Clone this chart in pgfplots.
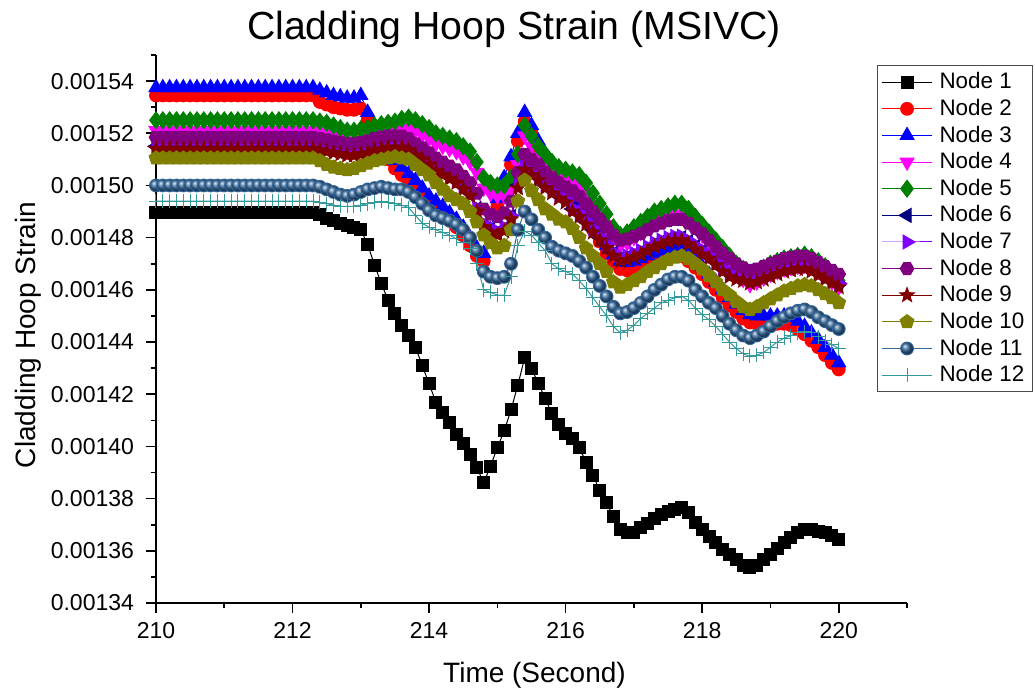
\documentclass[border=0pt]{standalone}
\usepackage{pgfplots}
\pgfplotsset{compat=1.18}
\usepackage{pgfplotstable}
\usepackage{fontspec}
\setmainfont{Liberation Sans}
\usetikzlibrary{shadings}

\definecolor{c1}{RGB}{0,0,0}
\definecolor{c2}{RGB}{255,0,0}
\definecolor{c3}{RGB}{0,0,255}
\definecolor{c4}{RGB}{255,0,255}
\definecolor{c5}{RGB}{0,128,0}
\definecolor{c6}{RGB}{0,0,128}
\definecolor{c7}{RGB}{128,0,255}
\definecolor{c8}{RGB}{128,0,128}
\definecolor{c9}{RGB}{128,0,0}
\definecolor{c10}{RGB}{128,128,0}
\definecolor{c11}{RGB}{51,102,153}
\definecolor{c12}{RGB}{51,153,153}

\pgfdeclareplotmark{hexagon*}{%
  \pgfpathmoveto{\pgfpointpolar{0}{\pgfplotmarksize}}%
  \pgfpathlineto{\pgfpointpolar{60}{\pgfplotmarksize}}%
  \pgfpathlineto{\pgfpointpolar{120}{\pgfplotmarksize}}%
  \pgfpathlineto{\pgfpointpolar{180}{\pgfplotmarksize}}%
  \pgfpathlineto{\pgfpointpolar{240}{\pgfplotmarksize}}%
  \pgfpathlineto{\pgfpointpolar{300}{\pgfplotmarksize}}%
  \pgfpathclose\pgfusepathqfillstroke}
\pgfdeclareplotmark{fstar}{%
  \pgfpathmoveto{\pgfpointpolar{90}{\pgfplotmarksize}}%
  \pgfpathlineto{\pgfpointpolar{126}{0.42\pgfplotmarksize}}%
  \pgfpathlineto{\pgfpointpolar{162}{\pgfplotmarksize}}%
  \pgfpathlineto{\pgfpointpolar{198}{0.42\pgfplotmarksize}}%
  \pgfpathlineto{\pgfpointpolar{234}{\pgfplotmarksize}}%
  \pgfpathlineto{\pgfpointpolar{270}{0.42\pgfplotmarksize}}%
  \pgfpathlineto{\pgfpointpolar{306}{\pgfplotmarksize}}%
  \pgfpathlineto{\pgfpointpolar{342}{0.42\pgfplotmarksize}}%
  \pgfpathlineto{\pgfpointpolar{18}{\pgfplotmarksize}}%
  \pgfpathlineto{\pgfpointpolar{54}{0.42\pgfplotmarksize}}%
  \pgfpathclose\pgfusepathqfillstroke}

\pgfplotstableread{
t n1 n2 n3 n4 n5 n6 n7 n8 n9 n10 n11 n12
210.0 148.95e-5 153.45e-5 153.75e-5 152.1e-5 152.5e-5 151.5e-5 151.55e-5 151.85e-5 151.4e-5 151.05e-5 150.0e-5 149.4e-5
210.1 148.95e-5 153.45e-5 153.75e-5 152.1e-5 152.5e-5 151.5e-5 151.55e-5 151.85e-5 151.4e-5 151.05e-5 150.0e-5 149.4e-5
210.2 148.95e-5 153.45e-5 153.75e-5 152.1e-5 152.5e-5 151.5e-5 151.55e-5 151.85e-5 151.4e-5 151.05e-5 150.0e-5 149.4e-5
210.3 148.95e-5 153.45e-5 153.75e-5 152.1e-5 152.5e-5 151.5e-5 151.55e-5 151.85e-5 151.4e-5 151.05e-5 150.0e-5 149.4e-5
210.4 148.95e-5 153.45e-5 153.75e-5 152.1e-5 152.5e-5 151.5e-5 151.55e-5 151.85e-5 151.4e-5 151.05e-5 150.0e-5 149.4e-5
210.5 148.95e-5 153.45e-5 153.75e-5 152.1e-5 152.5e-5 151.5e-5 151.55e-5 151.85e-5 151.4e-5 151.05e-5 150.0e-5 149.4e-5
210.6 148.95e-5 153.45e-5 153.75e-5 152.1e-5 152.5e-5 151.5e-5 151.55e-5 151.85e-5 151.4e-5 151.05e-5 150.0e-5 149.4e-5
210.7 148.95e-5 153.45e-5 153.75e-5 152.1e-5 152.5e-5 151.5e-5 151.55e-5 151.85e-5 151.4e-5 151.05e-5 150.0e-5 149.4e-5
210.8 148.95e-5 153.45e-5 153.75e-5 152.1e-5 152.5e-5 151.5e-5 151.55e-5 151.85e-5 151.4e-5 151.05e-5 150.0e-5 149.4e-5
210.9 148.95e-5 153.45e-5 153.75e-5 152.1e-5 152.5e-5 151.5e-5 151.55e-5 151.85e-5 151.4e-5 151.05e-5 150.0e-5 149.4e-5
211.0 148.95e-5 153.45e-5 153.75e-5 152.1e-5 152.5e-5 151.5e-5 151.55e-5 151.85e-5 151.4e-5 151.05e-5 150.0e-5 149.4e-5
211.1 148.95e-5 153.45e-5 153.75e-5 152.1e-5 152.5e-5 151.5e-5 151.55e-5 151.85e-5 151.4e-5 151.05e-5 150.0e-5 149.4e-5
211.2 148.95e-5 153.45e-5 153.75e-5 152.1e-5 152.5e-5 151.5e-5 151.55e-5 151.85e-5 151.4e-5 151.05e-5 150.0e-5 149.4e-5
211.3 148.95e-5 153.45e-5 153.75e-5 152.1e-5 152.5e-5 151.5e-5 151.55e-5 151.85e-5 151.4e-5 151.05e-5 150.0e-5 149.4e-5
211.4 148.95e-5 153.45e-5 153.75e-5 152.1e-5 152.5e-5 151.5e-5 151.55e-5 151.85e-5 151.4e-5 151.05e-5 150.0e-5 149.4e-5
211.5 148.95e-5 153.45e-5 153.75e-5 152.1e-5 152.5e-5 151.5e-5 151.55e-5 151.85e-5 151.4e-5 151.05e-5 150.0e-5 149.4e-5
211.6 148.95e-5 153.45e-5 153.75e-5 152.1e-5 152.5e-5 151.5e-5 151.55e-5 151.85e-5 151.4e-5 151.05e-5 150.0e-5 149.4e-5
211.7 148.95e-5 153.45e-5 153.75e-5 152.1e-5 152.5e-5 151.5e-5 151.55e-5 151.85e-5 151.4e-5 151.05e-5 150.0e-5 149.4e-5
211.8 148.95e-5 153.45e-5 153.75e-5 152.1e-5 152.5e-5 151.5e-5 151.55e-5 151.85e-5 151.4e-5 151.05e-5 150.0e-5 149.4e-5
211.9 148.95e-5 153.45e-5 153.75e-5 152.1e-5 152.5e-5 151.5e-5 151.55e-5 151.85e-5 151.4e-5 151.05e-5 150.0e-5 149.4e-5
212.0 148.95e-5 153.45e-5 153.75e-5 152.1e-5 152.5e-5 151.5e-5 151.55e-5 151.85e-5 151.4e-5 151.05e-5 150.0e-5 149.4e-5
212.1 148.95e-5 153.45e-5 153.75e-5 152.1e-5 152.5e-5 151.5e-5 151.55e-5 151.85e-5 151.4e-5 151.05e-5 150.0e-5 149.4e-5
212.2 148.95e-5 153.45e-5 153.75e-5 152.1e-5 152.5e-5 151.5e-5 151.55e-5 151.85e-5 151.4e-5 151.05e-5 150.0e-5 149.4e-5
212.3 148.95e-5 153.45e-5 153.75e-5 152.1e-5 152.5e-5 151.5e-5 151.55e-5 151.85e-5 151.4e-5 151.05e-5 150.0e-5 149.4e-5
212.4 148.9e-5 153.2e-5 153.65e-5 152.05e-5 152.45e-5 151.45e-5 151.5e-5 151.8e-5 151.35e-5 150.95e-5 149.95e-5 149.35e-5
212.5 148.75e-5 153.1e-5 153.55e-5 152.0e-5 152.4e-5 151.4e-5 151.45e-5 151.75e-5 151.3e-5 150.8e-5 149.85e-5 149.3e-5
212.6 148.65e-5 153.0e-5 153.45e-5 151.9e-5 152.3e-5 151.35e-5 151.4e-5 151.7e-5 151.25e-5 150.7e-5 149.75e-5 149.25e-5
212.7 148.55e-5 152.95e-5 153.4e-5 151.8e-5 152.2e-5 151.3e-5 151.35e-5 151.65e-5 151.2e-5 150.65e-5 149.65e-5 149.2e-5
212.8 148.45e-5 152.9e-5 153.35e-5 151.7e-5 152.1e-5 151.25e-5 151.3e-5 151.6e-5 151.15e-5 150.6e-5 149.6e-5 149.2e-5
212.9 148.4e-5 152.9e-5 153.35e-5 151.7e-5 152.1e-5 151.25e-5 151.3e-5 151.6e-5 151.15e-5 150.65e-5 149.65e-5 149.2e-5
213.0 148.3e-5 152.95e-5 153.45e-5 151.75e-5 152.15e-5 151.3e-5 151.35e-5 151.65e-5 151.2e-5 150.75e-5 149.75e-5 149.25e-5
213.1 147.75e-5 152.5e-5 152.8e-5 151.8e-5 152.2e-5 151.35e-5 151.4e-5 151.7e-5 151.25e-5 150.85e-5 149.85e-5 149.3e-5
213.2 146.95e-5 152.0e-5 152.3e-5 151.9e-5 152.3e-5 151.45e-5 151.5e-5 151.8e-5 151.35e-5 150.95e-5 149.9e-5 149.35e-5
213.3 146.25e-5 151.5e-5 151.8e-5 151.95e-5 152.35e-5 151.5e-5 151.55e-5 151.85e-5 151.4e-5 151.0e-5 149.95e-5 149.4e-5
213.4 145.6e-5 151.0e-5 151.3e-5 152.0e-5 152.4e-5 151.55e-5 151.6e-5 151.9e-5 151.45e-5 151.05e-5 149.9e-5 149.35e-5
213.5 145.1e-5 150.65e-5 150.95e-5 152.05e-5 152.45e-5 151.55e-5 151.6e-5 151.9e-5 151.45e-5 151.1e-5 149.85e-5 149.3e-5
213.6 144.65e-5 150.4e-5 150.7e-5 152.15e-5 152.55e-5 151.55e-5 151.6e-5 151.9e-5 151.45e-5 151.05e-5 149.85e-5 149.25e-5
213.7 144.25e-5 150.15e-5 150.45e-5 152.2e-5 152.6e-5 151.45e-5 151.5e-5 151.8e-5 151.35e-5 151.0e-5 149.75e-5 149.15e-5
213.8 143.8e-5 149.9e-5 150.2e-5 152.1e-5 152.5e-5 151.25e-5 151.3e-5 151.6e-5 151.15e-5 150.8e-5 149.55e-5 148.85e-5
213.9 143.1e-5 149.6e-5 149.9e-5 151.95e-5 152.35e-5 151.1e-5 151.15e-5 151.45e-5 151.0e-5 150.6e-5 149.3e-5 148.55e-5
214.0 142.4e-5 149.3e-5 149.6e-5 151.8e-5 152.2e-5 150.9e-5 150.95e-5 151.25e-5 150.8e-5 150.4e-5 149.05e-5 148.4e-5
214.1 141.7e-5 149.1e-5 149.4e-5 151.6e-5 152.0e-5 150.65e-5 150.7e-5 151.05e-5 150.55e-5 150.1e-5 148.85e-5 148.3e-5
214.2 141.3e-5 148.9e-5 149.2e-5 151.5e-5 151.9e-5 150.5e-5 150.55e-5 150.9e-5 150.4e-5 149.85e-5 148.75e-5 148.2e-5
214.3 140.9e-5 148.65e-5 148.95e-5 151.4e-5 151.8e-5 150.35e-5 150.4e-5 150.75e-5 150.25e-5 149.6e-5 148.65e-5 148.1e-5
214.4 140.45e-5 148.4e-5 148.7e-5 151.3e-5 151.7e-5 150.2e-5 150.25e-5 150.6e-5 150.1e-5 149.45e-5 148.5e-5 147.95e-5
214.5 140.1e-5 148.1e-5 148.4e-5 151.1e-5 151.5e-5 149.95e-5 150.0e-5 150.35e-5 149.85e-5 149.3e-5 148.3e-5 147.8e-5
214.6 139.7e-5 147.7e-5 148.0e-5 150.9e-5 151.3e-5 149.7e-5 149.75e-5 150.1e-5 149.6e-5 149.0e-5 148.0e-5 147.6e-5
214.7 139.2e-5 147.3e-5 147.6e-5 150.5e-5 150.9e-5 149.1e-5 149.15e-5 149.7e-5 149.0e-5 148.6e-5 147.5e-5 147.0e-5
214.8 138.6e-5 147.1e-5 147.4e-5 149.9e-5 150.3e-5 148.5e-5 148.55e-5 149.1e-5 148.4e-5 148.1e-5 146.7e-5 146.0e-5
214.9 139.25e-5 148.0e-5 148.3e-5 149.7e-5 150.1e-5 148.3e-5 148.35e-5 148.9e-5 148.2e-5 147.8e-5 146.5e-5 145.9e-5
215.0 139.95e-5 149.2e-5 149.5e-5 149.6e-5 150.0e-5 148.2e-5 148.25e-5 148.8e-5 148.1e-5 147.6e-5 146.45e-5 145.8e-5
215.1 140.6e-5 150.0e-5 150.3e-5 149.6e-5 150.0e-5 148.35e-5 148.4e-5 148.95e-5 148.25e-5 147.7e-5 146.5e-5 145.8e-5
215.2 141.4e-5 150.8e-5 151.1e-5 149.9e-5 150.3e-5 148.8e-5 148.85e-5 149.4e-5 148.7e-5 148.3e-5 147.0e-5 146.5e-5
215.3 142.35e-5 151.7e-5 152.0e-5 150.8e-5 151.2e-5 150.0e-5 150.05e-5 150.5e-5 149.9e-5 149.4e-5 148.3e-5 147.7e-5
215.4 143.4e-5 152.45e-5 152.8e-5 151.9e-5 152.3e-5 150.7e-5 150.75e-5 151.2e-5 150.6e-5 150.2e-5 149.0e-5 148.25e-5
215.5 143.0e-5 152.0e-5 152.3e-5 151.5e-5 151.9e-5 150.5e-5 150.55e-5 151.0e-5 150.4e-5 149.8e-5 148.7e-5 148.1e-5
215.6 142.4e-5 151.4e-5 151.7e-5 151.1e-5 151.5e-5 150.3e-5 150.35e-5 150.8e-5 150.2e-5 149.45e-5 148.3e-5 147.8e-5
215.7 141.85e-5 150.8e-5 151.1e-5 150.8e-5 151.2e-5 150.0e-5 150.05e-5 150.5e-5 149.9e-5 149.1e-5 148.0e-5 147.5e-5
215.8 141.25e-5 150.3e-5 150.6e-5 150.5e-5 150.9e-5 149.8e-5 149.85e-5 150.3e-5 149.7e-5 148.9e-5 147.65e-5 147.0e-5
215.9 140.85e-5 150.0e-5 150.3e-5 150.3e-5 150.7e-5 149.6e-5 149.65e-5 150.1e-5 149.5e-5 148.7e-5 147.5e-5 146.8e-5
216.0 140.5e-5 149.7e-5 150.0e-5 150.2e-5 150.6e-5 149.45e-5 149.5e-5 149.95e-5 149.35e-5 148.6e-5 147.4e-5 146.7e-5
216.1 140.3e-5 149.4e-5 149.7e-5 150.1e-5 150.5e-5 149.1e-5 149.15e-5 149.8e-5 149.0e-5 148.35e-5 147.3e-5 146.6e-5
216.2 139.95e-5 149.1e-5 149.4e-5 150.0e-5 150.4e-5 148.9e-5 148.95e-5 149.6e-5 148.8e-5 148.0e-5 147.1e-5 146.35e-5
216.3 139.4e-5 148.7e-5 149.0e-5 149.7e-5 150.1e-5 148.6e-5 148.65e-5 149.3e-5 148.5e-5 147.6e-5 146.85e-5 146.05e-5
216.4 138.9e-5 148.3e-5 148.6e-5 149.3e-5 149.7e-5 148.3e-5 148.35e-5 149.0e-5 148.2e-5 147.3e-5 146.5e-5 145.7e-5
216.5 138.3e-5 147.85e-5 148.15e-5 148.9e-5 149.3e-5 148.0e-5 148.05e-5 148.7e-5 147.9e-5 147.0e-5 146.15e-5 145.35e-5
216.6 137.85e-5 147.4e-5 147.7e-5 148.5e-5 148.9e-5 147.7e-5 147.75e-5 148.4e-5 147.6e-5 146.7e-5 145.75e-5 145.0e-5
216.7 137.3e-5 147.05e-5 147.35e-5 148.0e-5 148.4e-5 147.4e-5 147.45e-5 148.1e-5 147.3e-5 146.3e-5 145.35e-5 144.6e-5
216.8 136.8e-5 146.8e-5 147.1e-5 147.7e-5 148.1e-5 147.2e-5 147.25e-5 147.9e-5 147.1e-5 146.1e-5 145.1e-5 144.35e-5
216.9 136.7e-5 146.75e-5 147.05e-5 147.8e-5 148.2e-5 147.25e-5 147.3e-5 147.95e-5 147.15e-5 146.2e-5 145.15e-5 144.45e-5
217.0 136.7e-5 146.8e-5 147.1e-5 148.0e-5 148.4e-5 147.35e-5 147.4e-5 148.05e-5 147.25e-5 146.35e-5 145.3e-5 144.65e-5
217.1 136.9e-5 146.9e-5 147.2e-5 148.2e-5 148.6e-5 147.45e-5 147.5e-5 148.15e-5 147.35e-5 146.5e-5 145.5e-5 144.9e-5
217.2 137.05e-5 147.0e-5 147.3e-5 148.4e-5 148.8e-5 147.6e-5 147.65e-5 148.3e-5 147.5e-5 146.7e-5 145.75e-5 145.1e-5
217.3 137.25e-5 147.1e-5 147.4e-5 148.6e-5 149.0e-5 147.75e-5 147.8e-5 148.45e-5 147.65e-5 146.85e-5 146.0e-5 145.3e-5
217.4 137.4e-5 147.2e-5 147.5e-5 148.7e-5 149.1e-5 147.85e-5 147.9e-5 148.55e-5 147.75e-5 147.0e-5 146.2e-5 145.5e-5
217.5 137.5e-5 147.25e-5 147.55e-5 148.8e-5 149.2e-5 147.95e-5 148.0e-5 148.65e-5 147.85e-5 147.15e-5 146.4e-5 145.6e-5
217.6 137.6e-5 147.3e-5 147.6e-5 148.9e-5 149.3e-5 148.0e-5 148.05e-5 148.7e-5 147.9e-5 147.25e-5 146.5e-5 145.7e-5
217.7 137.65e-5 147.3e-5 147.6e-5 148.9e-5 149.3e-5 148.0e-5 148.05e-5 148.7e-5 147.9e-5 147.3e-5 146.5e-5 145.75e-5
217.8 137.45e-5 147.1e-5 147.4e-5 148.7e-5 149.1e-5 147.85e-5 147.9e-5 148.55e-5 147.75e-5 147.2e-5 146.35e-5 145.6e-5
217.9 137.1e-5 146.85e-5 147.15e-5 148.4e-5 148.8e-5 147.65e-5 147.7e-5 148.35e-5 147.55e-5 147.0e-5 146.0e-5 145.3e-5
218.0 136.8e-5 146.6e-5 146.9e-5 148.1e-5 148.5e-5 147.45e-5 147.5e-5 148.15e-5 147.35e-5 146.8e-5 145.75e-5 145.05e-5
218.1 136.55e-5 146.3e-5 146.6e-5 147.8e-5 148.2e-5 147.3e-5 147.35e-5 147.9e-5 147.2e-5 146.55e-5 145.5e-5 144.85e-5
218.2 136.3e-5 146.0e-5 146.3e-5 147.5e-5 147.9e-5 147.05e-5 147.1e-5 147.65e-5 146.95e-5 146.3e-5 145.3e-5 144.6e-5
218.3 136.05e-5 145.7e-5 146.0e-5 147.2e-5 147.6e-5 146.8e-5 146.85e-5 147.4e-5 146.7e-5 146.0e-5 145.0e-5 144.3e-5
218.4 135.85e-5 145.4e-5 145.7e-5 146.9e-5 147.3e-5 146.6e-5 146.65e-5 147.2e-5 146.5e-5 145.8e-5 144.7e-5 144.0e-5
218.5 135.65e-5 145.15e-5 145.45e-5 146.6e-5 147.0e-5 146.5e-5 146.55e-5 147.0e-5 146.4e-5 145.55e-5 144.45e-5 143.75e-5
218.6 135.45e-5 144.9e-5 145.2e-5 146.4e-5 146.8e-5 146.45e-5 146.5e-5 146.85e-5 146.35e-5 145.35e-5 144.25e-5 143.55e-5
218.7 135.35e-5 144.75e-5 145.05e-5 146.2e-5 146.6e-5 146.35e-5 146.4e-5 146.75e-5 146.25e-5 145.25e-5 144.15e-5 143.45e-5
218.8 135.45e-5 144.7e-5 145.0e-5 146.3e-5 146.7e-5 146.4e-5 146.45e-5 146.8e-5 146.3e-5 145.35e-5 144.25e-5 143.5e-5
218.9 135.65e-5 144.7e-5 145.0e-5 146.45e-5 146.85e-5 146.5e-5 146.55e-5 146.9e-5 146.4e-5 145.5e-5 144.4e-5 143.6e-5
219.0 135.85e-5 144.7e-5 145.0e-5 146.6e-5 147.0e-5 146.6e-5 146.65e-5 147.0e-5 146.5e-5 145.65e-5 144.6e-5 143.8e-5
219.1 136.1e-5 144.7e-5 145.0e-5 146.7e-5 147.1e-5 146.7e-5 146.75e-5 147.1e-5 146.6e-5 145.8e-5 144.8e-5 144.0e-5
219.2 136.3e-5 144.7e-5 145.0e-5 146.8e-5 147.2e-5 146.8e-5 146.85e-5 147.2e-5 146.7e-5 145.95e-5 144.95e-5 144.15e-5
219.3 136.5e-5 144.65e-5 144.95e-5 146.85e-5 147.25e-5 146.85e-5 146.9e-5 147.25e-5 146.75e-5 146.05e-5 145.1e-5 144.25e-5
219.4 136.7e-5 144.5e-5 144.8e-5 146.9e-5 147.3e-5 146.9e-5 146.95e-5 147.3e-5 146.8e-5 146.15e-5 145.2e-5 144.35e-5
219.5 136.8e-5 144.3e-5 144.6e-5 146.95e-5 147.35e-5 146.9e-5 146.95e-5 147.3e-5 146.8e-5 146.2e-5 145.25e-5 144.4e-5
219.6 136.8e-5 144.05e-5 144.35e-5 146.95e-5 147.25e-5 146.8e-5 146.85e-5 147.2e-5 146.7e-5 146.15e-5 145.15e-5 144.35e-5
219.7 136.75e-5 143.8e-5 144.1e-5 146.8e-5 147.1e-5 146.65e-5 146.7e-5 147.05e-5 146.55e-5 146.0e-5 144.95e-5 144.2e-5
219.8 136.7e-5 143.5e-5 143.8e-5 146.6e-5 146.9e-5 146.5e-5 146.55e-5 146.9e-5 146.4e-5 145.85e-5 144.8e-5 144.05e-5
219.9 136.6e-5 143.2e-5 143.5e-5 146.3e-5 146.6e-5 146.35e-5 146.4e-5 146.75e-5 146.25e-5 145.7e-5 144.65e-5 143.9e-5
220.0 136.45e-5 142.95e-5 143.2e-5 146.1e-5 146.35e-5 146.2e-5 146.25e-5 146.6e-5 146.1e-5 145.5e-5 144.5e-5 143.75e-5
}\data

\begin{document}
\begin{tikzpicture}
\begin{axis}[
  name=ax,
  scale only axis,
  width=375.5pt, height=274pt,
  xmin=210, xmax=221,
  ymin=0.00134, ymax=0.00155,
  axis x line*=bottom, axis y line*=left,
  x axis line style={-}, y axis line style={-},
  axis line style={line width=1pt, black},
  tick align=outside,
  major tick length=5pt, minor tick length=2.5pt,
  every tick/.style={black, line width=0.8pt},
  xtick={210,212,214,216,218,220},
  minor xtick={211,213,215,217,219,221},
  ytick={0.00134,0.00136,0.00138,0.00140,0.00142,0.00144,0.00146,0.00148,0.00150,0.00152,0.00154},
  minor ytick={0.00135,0.00137,0.00139,0.00141,0.00143,0.00145,0.00147,0.00149,0.00151,0.00153,0.00155},
  scaled y ticks=false,
  yticklabel style={/pgf/number format/.cd, fixed, fixed zerofill, precision=5, assume math mode=true, /tikz/.cd, xshift=-2.5pt},
  xticklabel style={/pgf/number format/assume math mode=true, yshift=-1pt},
  tick label style={font=\fontsize{11.5}{13}\selectfont},
  every axis title shift=0pt,
  title={Cladding Hoop Strain (MSIVC)},
  title style={at={(axis description cs:0.4767,1.0274)}, anchor=base, font=\fontsize{19.6}{22}\selectfont},
  xlabel={Time (Second)},
  xlabel style={at={(axis description cs:0.504,-0.1442)}, anchor=base, font=\fontsize{14}{16}\selectfont},
  ylabel={Cladding Hoop Strain},
  ylabel style={at={(axis description cs:-0.1600,0.489)}, anchor=base, font=\fontsize{14}{16}\selectfont},
  clip=false,
  legend cell align=left,
  legend style={at={(axis description cs:0.960,0.9818)}, anchor=north west,
    draw=black!70, line width=0.6pt, font=\fontsize{11.2}{13}\selectfont,
    inner xsep=2pt, inner ysep=1.5pt, row sep=-0.3pt,
    /tikz/every odd column/.append style={column sep=1.5pt}},
  legend image code/.code={\draw[mark repeat=2,mark phase=2] plot coordinates {(0pt,0pt) (12.5pt,0pt) (25pt,0pt)};},
  every axis plot/.append style={line width=0.5pt},
]
\addplot[c1, mark=square*, mark size=3pt] table[x=t,y=n1]{\data};
\addlegendentry{Node 1}
\addplot[c2, mark=*, mark size=3.2pt] table[x=t,y=n2]{\data};
\addlegendentry{Node 2}
\addplot[c3, mark=triangle*, mark size=4pt] table[x=t,y=n3]{\data};
\addlegendentry{Node 3}
\addplot[c4, mark=triangle*, mark size=4pt, mark options={rotate=180}] table[x=t,y=n4]{\data};
\addlegendentry{Node 4}
\addplot[c5, mark=diamond*, mark size=4.2pt] table[x=t,y=n5]{\data};
\addlegendentry{Node 5}
\addplot[c6, mark=triangle*, mark size=4pt, mark options={rotate=90}] table[x=t,y=n6]{\data};
\addlegendentry{Node 6}
\addplot[c7, mark=triangle*, mark size=4pt, mark options={rotate=-90}] table[x=t,y=n7]{\data};
\addlegendentry{Node 7}
\addplot[c8, mark=hexagon*, mark size=3.4pt] table[x=t,y=n8]{\data};
\addlegendentry{Node 8}
\addplot[c9, mark=fstar, mark size=3.8pt] table[x=t,y=n9]{\data};
\addlegendentry{Node 9}
\addplot[c10, mark=pentagon*, mark size=3.6pt] table[x=t,y=n10]{\data};
\addlegendentry{Node 10}
\addplot[c11, mark=ball, mark size=3.2pt, mark options={ball color=c11}] table[x=t,y=n11]{\data};
\addlegendentry{Node 11}
\addplot[c12, mark=+, mark size=3.5pt] table[x=t,y=n12]{\data};
\addlegendentry{Node 12}
\end{axis}
\pgfresetboundingbox
\path[use as bounding box] (ax.south west) ++(-78pt,-45pt) rectangle ++(517.5pt,346.5pt);
\end{tikzpicture}
\end{document}
